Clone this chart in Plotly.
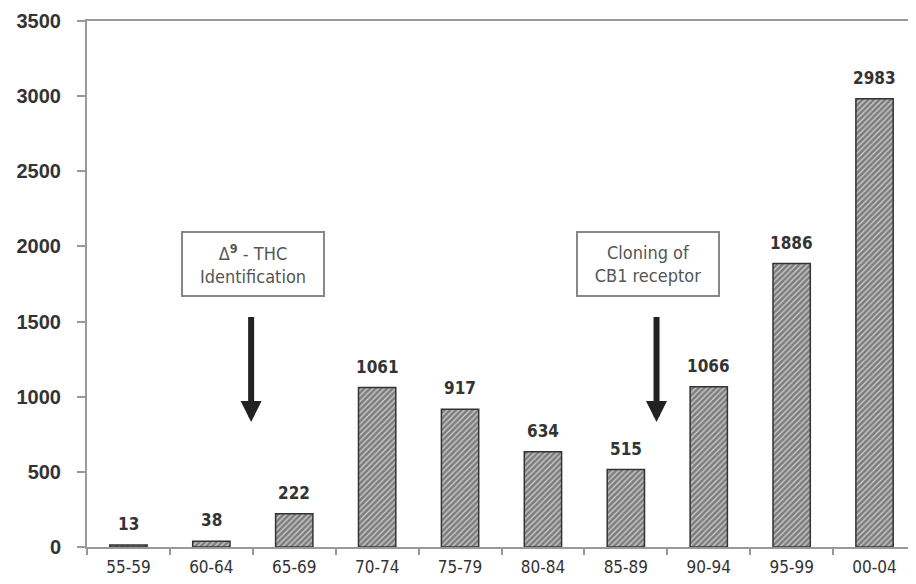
import plotly.graph_objects as go

categories = ["55-59", "60-64", "65-69", "70-74", "75-79", "80-84", "85-89", "90-94", "95-99", "00-04"]
values = [13, 38, 222, 1061, 917, 634, 515, 1066, 1886, 2983]
y_ticks = [0, 500, 1000, 1500, 2000, 2500, 3000, 3500]

# event annotations: (box x position, box text, box value, arrow x, arrow top, arrow tip)
events = [
    (1.5, "Δ<sup><b>9</b></sup> - THC<br>Identification", 1880, 1.48, 1597, 832),
    (6.27, "Cloning of<br>CB1 receptor", 1880, 6.37, 1597, 832),
]

NARROW = "DejaVu Sans Condensed, Liberation Sans"

fig = go.Figure()
fig.add_trace(go.Bar(
    x=categories, y=values, width=0.45,
    marker=dict(color="#d0d0d0",
                line=dict(color="#333333", width=1.5),
                pattern=dict(shape="/", fgcolor="#2a2a2a", size=4, solidity=0.68)),
    showlegend=False,
))

annotations = []
for c, v in zip(categories, values):
    annotations.append(dict(x=c, y=v, text="<b>%d</b>" % v, showarrow=False, yanchor="middle", yshift=21,
                            font=dict(family=NARROW, size=17, color="#333333")))

for bx, text, by, axx, atop, atip in events:
    annotations.append(dict(x=bx, y=by, text=text, showarrow=False, xref="x", yref="y",
                            bordercolor="#888888", borderwidth=2, borderpad=6, width=128, height=50,
                            bgcolor="white",
                            font=dict(family=NARROW, size=18, color="#555555")))
    annotations.append(dict(x=axx, y=atip, ax=axx, ay=atop, xref="x", yref="y", axref="x", ayref="y",
                            text=" ", showarrow=True, arrowhead=2, arrowsize=0.7, arrowwidth=6,
                            arrowcolor="#222222"))

fig.update_layout(
    width=908, height=576,
    margin=dict(l=79, r=0, t=13, b=37),
    plot_bgcolor="white", paper_bgcolor="white",
    annotations=annotations,
    xaxis=dict(type="category", showline=True, linecolor="#999999", linewidth=2, mirror=True,
               ticks="outside", tickson="boundaries", ticklen=6, tickcolor="#999999", tickwidth=2,
               tickfont=dict(family=NARROW, size=17, color="#333333"), automargin=False,
               ticklabelstandoff=4, showgrid=False, range=[-0.5, 9.5]),
    yaxis=dict(range=[0, 3500], tickvals=y_ticks, showline=True, linecolor="#999999", linewidth=2,
               ticks="outside", ticklen=8, tickcolor="#999999", tickwidth=2, showgrid=False,
               zeroline=False, ticklabelstandoff=12, automargin=False,
               tickfont=dict(family="Liberation Sans", size=20, color="#333333", weight="bold")),
)

fig.write_html("out.html")
